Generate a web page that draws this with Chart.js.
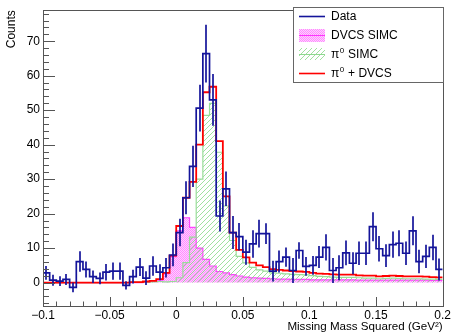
<!DOCTYPE html>
<html><head><meta charset="utf-8">
<script src="https://cdn.jsdelivr.net/npm/chart.js@4/dist/chart.umd.min.js"></script>
<style>html,body{margin:0;padding:0;background:#fff}#wrap{width:453px;height:334px}</style>
</head><body><div id="wrap"><canvas id="c" width="453" height="334"></canvas></div>
<script>
// ---- histogram definition (60 bins from -0.1 to 0.2) ----
const histMin = -0.1;
const histMax = 0.2;
const nBins = 60;

// Data (background-subtracted counts) per bin
const dataCounts = [2.8,0.7,0.4,0.9,-1.4,6.1,3.8,1.7,1.2,3.0,
  3.3,3.3,-0.8,1.7,4.5,1.3,4.8,3.0,4.3,8.0,
  14.5,24.6,33.7,50.6,66.4,53.0,19.3,27.2,14.5,13.3,
  8.8,11.2,14.2,14.2,3.3,6.1,7.4,3.5,9.3,4.7,
  5.0,7.4,10.2,3.5,4.3,8.6,5.6,8.5,8.5,16.2,
  9.8,7.8,11.0,11.4,8.5,15.0,6.1,7.6,10.2,3.8];
// Statistical errors on data
const dataErrors = [2.0,1.6,1.4,1.6,1.4,3.0,2.3,1.8,1.7,2.4,
  2.5,2.5,1.2,2.0,2.6,2.0,2.8,2.3,2.8,3.3,
  4.0,4.8,6.0,6.8,8.4,7.5,4.5,5.0,4.8,4.0,
  3.6,4.0,4.0,3.0,3.0,3.2,2.8,3.6,2.4,2.7,
  2.7,3.2,3.8,3.6,3.6,3.6,3.2,3.4,3.4,4.2,
  3.7,3.3,3.8,3.8,3.4,4.2,3.4,3.4,3.7,3.2];
// DVCS SIMC
const dvcsCounts = [0,0,0,0,0,0,0,0,0,0,
  0,0,0,0,0,0.2,0.3,0.7,2.6,7.5,
  15.0,18.8,16.0,10.0,6.7,4.8,3.2,2.8,2.3,1.9,
  1.6,1.4,1.3,1.2,1.1,1.0,1.0,0.9,0.9,0.9,
  0.8,0.8,0.8,0.8,0.8,0.8,0.8,0.7,0.7,0.7,
  0.7,0.7,0.7,0.7,0.7,0.7,0.7,0.7,0.6,0.6];
// pi0 SIMC
const pi0Counts = [0,0,0,0,0,0,0,0,0,0,
  0,0,0,0.1,0.1,0.1,0.2,0.3,0.2,0.3,
  1.4,5.8,13.2,30.0,48.5,52.0,37.8,22.2,12.2,7.6,
  5.7,4.4,3.7,3.3,2.8,2.7,2.5,2.4,2.3,2.2,
  2.0,1.8,1.7,1.6,1.5,1.5,1.5,1.4,1.3,1.3,
  1.1,1.2,1.3,1.2,1.1,1.1,1.1,1.0,1.0,0.9];
// pi0 + DVCS
const sumCounts = [0,0,0,0,0,0,0,0,0,0,
  0,0,0,0.1,0.1,0.3,0.5,1.0,2.8,7.8,
  16.4,24.6,29.2,40.0,55.2,56.8,41.0,25.0,14.5,9.5,
  7.3,5.8,5.0,4.5,3.9,3.7,3.5,3.3,3.2,3.1,
  2.8,2.6,2.5,2.4,2.3,2.3,2.3,2.1,2.0,2.0,
  1.8,1.9,2.0,1.9,1.8,1.8,1.8,1.7,1.6,1.5];

// axis ticks
const xTicks = [-0.1,-0.05,0,0.05,0.1,0.15,0.2];
const xTickLabels = ['\u22120.1','\u22120.05','0','0.05','0.1','0.15','0.2'];
const yTicks = [0,10,20,30,40,50,60,70];
const yTickLabels = ['0','10','20','30','40','50','60','70'];
const yMin = -6.8, yMax = 79;

const binW = (histMax - histMin) / nBins;
function stepPoints(vals){
  const pts = vals.map((v,i)=>({x: histMin + i*binW, y: v}));
  pts.push({x: histMax, y: vals[vals.length-1]});
  return pts;
}

const canvas = document.getElementById('c');
const ctx = canvas.getContext('2d');
const FONT = "'Liberation Sans', Arial, Helvetica, sans-serif";
const BLUE = '#14149a';

function makeHatch(){
  const c = document.createElement('canvas'); c.width = 5; c.height = 5;
  const g = c.getContext('2d');
  g.strokeStyle = 'rgba(130,215,130,0.85)'; g.lineWidth = 0.9;
  g.beginPath();
  g.moveTo(0,5); g.lineTo(5,0);
  g.moveTo(-1,1); g.lineTo(1,-1);
  g.moveTo(4,6); g.lineTo(6,4);
  g.stroke();
  return ctx.createPattern(c,'repeat');
}
function makePink(){
  const c = document.createElement('canvas'); c.width = 2; c.height = 2;
  const g = c.getContext('2d');
  g.fillStyle = '#ffd0ff'; g.fillRect(0,0,2,2);
  g.fillStyle = '#ff8cff'; g.fillRect(0,0,1,1); g.fillRect(1,1,1,1);
  return ctx.createPattern(c,'repeat');
}
const hatch = makeHatch();
const pink = makePink();

const errorBars = {
  id: 'errorBars',
  afterDatasetsDraw(chart){
    const c = chart.ctx, xs = chart.scales.x, ys = chart.scales.y, a = chart.chartArea;
    c.save();
    c.beginPath(); c.rect(a.left, a.top, a.right-a.left, a.bottom-a.top); c.clip();
    c.strokeStyle = BLUE; c.lineWidth = 1.7;
    c.beginPath();
    dataCounts.forEach((v,i)=>{
      const xc = Math.round(xs.getPixelForValue(histMin + (i+0.5)*binW));
      c.moveTo(xc, ys.getPixelForValue(v - dataErrors[i]));
      c.lineTo(xc, ys.getPixelForValue(v + dataErrors[i]));
    });
    c.stroke();
    c.restore();
  }
};

function piText(c, x, y, rest){
  c.font = '12px ' + FONT;
  c.fillText('\u03c0', x, y);
  const w = c.measureText('\u03c0').width;
  c.font = '8px ' + FONT;
  c.fillText('0', x + w + 0.5, y - 4);
  const w2 = c.measureText('0').width;
  c.font = '12px ' + FONT;
  c.fillText(rest, x + w + w2 + 1, y);
}

const frameAndLegend = {
  id: 'frameAndLegend',
  afterDraw(chart){
    const c = chart.ctx, xs = chart.scales.x, ys = chart.scales.y, a = chart.chartArea;
    c.save();
    // ticks (inside the frame, ROOT style)
    c.strokeStyle = '#555'; c.lineWidth = 1;
    c.beginPath();
    for (let k = -3; k <= 39; k++){
      const v = k*2; const py = Math.round(ys.getPixelForValue(v)) + 0.5;
      const len = (v % 10 === 0) ? 12 : 6;
      c.moveTo(a.left, py); c.lineTo(a.left + len, py);
    }
    for (let k = -10; k <= 20; k++){
      const v = k*0.01; const px = Math.round(xs.getPixelForValue(v)) + 0.5;
      const len = (k % 5 === 0) ? 9 : 4.5;
      c.moveTo(px, a.bottom); c.lineTo(px, a.bottom - len);
    }
    c.stroke();
    // frame
    c.strokeStyle = '#555';
    c.strokeRect(Math.round(a.left)+0.5, Math.round(a.top)+0.5, Math.round(a.right-a.left), Math.round(a.bottom-a.top));

    // legend
    const lx0 = 293, ly0 = 7, lx1 = Math.round(a.right), ly1 = 82;
    c.fillStyle = '#fff';
    c.fillRect(lx0, ly0, lx1-lx0, ly1-ly0);
    c.strokeStyle = '#666'; c.lineWidth = 1;
    c.strokeRect(lx0+0.5, ly0+0.5, lx1-lx0, ly1-ly0);
    const sx0 = 299, sx1 = 325, tx = 331;
    // Data
    c.strokeStyle = BLUE; c.lineWidth = 1.6;
    c.beginPath(); c.moveTo(sx0, 16.5); c.lineTo(sx1, 16.5); c.stroke();
    // DVCS
    c.fillStyle = pink; c.fillRect(sx0, 29, sx1-sx0, 13);
    c.strokeStyle = '#ff33ff'; c.lineWidth = 1;
    c.beginPath(); c.moveTo(sx0, 35.5); c.lineTo(sx1, 35.5); c.stroke();
    // pi0
    c.fillStyle = hatch; c.fillRect(sx0, 48, sx1-sx0, 12);
    c.strokeStyle = '#8fd88f'; c.lineWidth = 1;
    c.beginPath(); c.moveTo(sx0, 54.5); c.lineTo(sx1, 54.5); c.stroke();
    // sum
    c.strokeStyle = '#ff0000'; c.lineWidth = 1.6;
    c.beginPath(); c.moveTo(sx0, 73.5); c.lineTo(sx1, 73.5); c.stroke();
    c.fillStyle = '#000'; c.textBaseline = 'middle'; c.textAlign = 'left';
    c.font = '12px ' + FONT;
    c.fillText('Data', tx, 16.5);
    c.fillText('DVCS SIMC', tx, 35.5);
    piText(c, tx, 54.5, ' SIMC');
    piText(c, tx, 73.5, ' + DVCS');
    c.restore();
  }
};

new Chart(ctx, {
  type: 'line',
  data: { datasets: [
    {label:'Data', data: stepPoints(dataCounts), stepped: true, borderColor: BLUE, borderWidth: 1.7, fill: false, order: 0, pointRadius: 0},
    {label:'\u03c0\u2070 + DVCS', data: stepPoints(sumCounts), stepped: true, borderColor: '#ff0000', borderWidth: 1.8, fill: false, order: 1, pointRadius: 0},
    {label:'\u03c0\u2070 SIMC', data: stepPoints(pi0Counts), stepped: true, borderColor: '#99dd99', borderWidth: 1.2, fill: 'origin', backgroundColor: hatch, order: 2, pointRadius: 0},
    {label:'DVCS SIMC', data: stepPoints(dvcsCounts), stepped: true, borderColor: '#ff44ff', borderWidth: 1.2, fill: 'origin', backgroundColor: pink, order: 3, pointRadius: 0}
  ]},
  options: {
    responsive: false,
    animation: false,
    devicePixelRatio: 1,
    layout: { padding: { left: 0, right: 9, top: 7, bottom: 0 } },
    plugins: { legend: { display: false }, tooltip: { enabled: false } },
    elements: { line: { tension: 0 } },
    scales: {
      x: {
        type: 'linear', min: histMin, max: histMax,
        grid: { display: false, drawTicks: false },
        border: { display: false },
        afterBuildTicks: (s) => { s.ticks = xTicks.map(v => ({value: v})); },
        afterFit: (s) => { s.height = 28; },
        ticks: { autoSkip: false, maxRotation: 0, minRotation: 0, padding: 2, color: '#000',
          font: { family: FONT, size: 12 },
          callback: (v, i) => xTickLabels[i] },
        title: { display: true, text: 'Missing Mass Squared (GeV\u00b2)', align: 'end', color: '#000',
          font: { family: FONT, size: 11.6, lineHeight: 1.2 }, padding: { top: 0, bottom: 0 } }
      },
      y: {
        type: 'linear', min: yMin, max: yMax,
        grid: { display: false, drawTicks: false },
        border: { display: false },
        afterBuildTicks: (s) => { s.ticks = yTicks.map(v => ({value: v})); },
        afterFit: (s) => { s.width = 43; },
        ticks: { autoSkip: false, padding: 3, color: '#000',
          font: { family: FONT, size: 12 },
          callback: (v, i) => yTickLabels[i] },
        title: { display: true, text: 'Counts', align: 'end', color: '#000',
          font: { family: FONT, size: 12, lineHeight: 1.2 }, padding: { top: 4.5, bottom: 0 } }
      }
    }
  },
  plugins: [errorBars, frameAndLegend]
});
</script>
</body></html>
